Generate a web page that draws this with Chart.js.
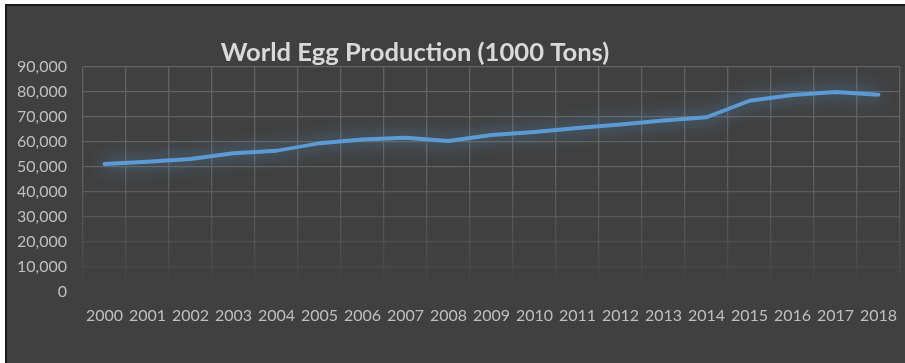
<!DOCTYPE html>
<html>
<head>
<meta charset="utf-8">
<script src="https://cdn.jsdelivr.net/npm/chart.js@4/dist/chart.umd.min.js"></script>
<style>
  html, body { margin: 0; padding: 0; background: #ffffff; width: 905px; height: 363px; overflow: hidden; }
  #frame {
    position: absolute; left: 5px; top: 4px; width: 910px; height: 370px;
    border-left: 2px solid #1a1a1a; border-top: 2px solid #1a1a1a;
    background: #404040;
  }
  #c { display: block; }
</style>
</head>
<body>
<div id="frame"><canvas id="c" width="898" height="357"></canvas></div>
<script>
// World egg production, thousand tonnes per year
const years = ['2000','2001','2002','2003','2004','2005','2006','2007','2008','2009',
               '2010','2011','2012','2013','2014','2015','2016','2017','2018'];
const production = [51200, 52100, 53200, 55500, 56500, 59500, 61000, 61700, 60400, 62800,
                    64000, 65600, 67000, 68600, 69900, 76500, 78800, 80000, 78900];
const yTicks = [0, 10000, 20000, 30000, 40000, 50000, 60000, 70000, 80000, 90000];
const titleText = 'World Egg Production (1000 Tons)';

const FONT = 'Lato, "Open Sans", sans-serif';

// Grid lines fade out toward the bottom of the plot
function gridFade(ctx) {
  const chart = ctx.chart;
  const a = chart.chartArea;
  if (!a) return 'rgba(96,96,96,1)';
  const g = chart.ctx.createLinearGradient(0, a.top, 0, a.bottom);
  g.addColorStop(0, 'rgba(98,98,98,1)');
  g.addColorStop(0.45, 'rgba(98,98,98,0.95)');
  g.addColorStop(0.8, 'rgba(98,98,98,0.45)');
  g.addColorStop(1, 'rgba(98,98,98,0)');
  return g;
}

// Soft blue glow under the line
const glow = {
  id: 'glow',
  beforeDatasetDraw(chart) {
    const c = chart.ctx;
    c.save();
    c.shadowColor = 'rgba(91,155,213,0.95)';
    c.shadowBlur = 18;
  },
  afterDatasetDraw(chart) { chart.ctx.restore(); }
};

// Title drawn over the top band
const titlePlugin = {
  id: 'titleText',
  afterDraw(chart) {
    const c = chart.ctx;
    c.save();
    c.font = 'bold 25.6px ' + FONT;
    c.fillStyle = '#d9d9d9';
    c.textAlign = 'center';
    c.textBaseline = 'middle';
    c.fillText(titleText, 408, 47);
    c.restore();
  }
};

new Chart(document.getElementById('c'), {
  type: 'line',
  data: {
    labels: years,
    datasets: [{
      data: production,
      borderColor: '#5B9BD5',
      borderWidth: 3.8,
      borderCapStyle: 'round',
      borderJoinStyle: 'round',
      pointRadius: 0,
      tension: 0,
      fill: false
    }]
  },
  options: {
    responsive: false,
    animation: false,
    layout: { padding: { top: 61, right: 5, left: 0, bottom: 0 } },
    plugins: { legend: { display: false }, tooltip: { enabled: false }, title: { display: false } },
    scales: {
      x: {
        offset: true,
        grid: { offset: true, color: gridFade, lineWidth: 1.3, drawTicks: false },
        border: { display: false },
        ticks: { color: '#bfbfbf', font: { family: FONT, size: 16 }, padding: 14, maxRotation: 0, autoSkip: false },
        afterFit(s) { s.height = 71; s.paddingLeft = 0; s.paddingRight = 0; }
      },
      y: {
        min: 0, max: 90000,
        afterBuildTicks(s) { s.ticks = yTicks.map(v => ({ value: v })); },
        grid: { color: gridFade, lineWidth: 1.3, drawTicks: false },
        border: { display: false },
        ticks: {
          color: '#bfbfbf', font: { family: FONT, size: 16 }, padding: 16,
          callback: v => v.toLocaleString('en-US')
        },
        afterFit(s) { s.width = 76; s.paddingTop = 0; s.paddingBottom = 0; }
      }
    }
  },
  plugins: [glow, titlePlugin]
});
</script>
</body>
</html>
